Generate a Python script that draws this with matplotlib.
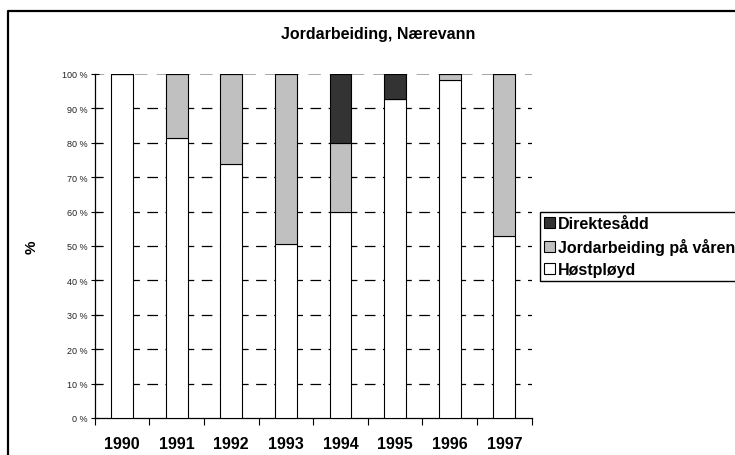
import matplotlib
matplotlib.use("Agg")
import matplotlib.pyplot as plt
from matplotlib.lines import Line2D
from matplotlib.patches import Patch
import numpy as np

plt.rcParams['font.family'] = ['Liberation Sans', 'DejaVu Sans']

years = ['1990', '1991', '1992', '1993', '1994', '1995', '1996', '1997']
hostployd = [100.0, 81.4, 73.7, 50.6, 59.8, 92.7, 98.3, 53.0]
jord_var = [0.0, 18.6, 26.3, 49.4, 20.1, 0.0, 1.7, 47.0]
direktesadd = [0.0, 0.0, 0.0, 0.0, 20.1, 7.3, 0.0, 0.0]
series_names = ['Direktesådd', 'Jordarbeiding på våren', 'Høstpløyd']
yticks = list(range(0, 101, 10))
ytick_labels = [f'{v} %' for v in yticks]

W, H = 735, 456
fig = plt.figure(figsize=(W / 100, H / 100), dpi=100)
ax = fig.add_axes([94.7 / W, 1 - 419 / H, (531.7 - 94.7) / W, (419 - 75) / H])

x = np.arange(len(years))
bw = 0.4
c_dark, c_gray, c_white = '#333333', '#c0c0c0', '#ffffff'
ekw = dict(edgecolor='black', linewidth=0.8, zorder=3)
ax.bar(x, hostployd, bw, color=c_white, **ekw)
b2 = np.array(hostployd)
ax.bar(x, jord_var, bw, bottom=b2, color=c_gray, **ekw)
b3 = b2 + np.array(jord_var)
ax.bar(x, direktesadd, bw, bottom=b3, color=c_dark, **ekw)

ax.set_xlim(-0.5, len(years) - 0.5)
ax.set_ylim(0, 100)
for v in yticks[1:-1]:
    ax.axhline(v, color='black', lw=0.9, ls=(2, (8.5, 6.0)), zorder=1)
ax.axhline(100, color='#999999', lw=1.2, ls=(2, (7.5, 5.5)), zorder=1)

ax.set_yticks(yticks)
ax.set_yticklabels(ytick_labels, fontsize=6.5, color='#222222')
ax.tick_params(axis='y', direction='inout', length=6, width=0.8, pad=2)

ax.set_xticks(np.arange(len(years) + 1) - 0.5)
ax.set_xticklabels([])
ax.tick_params(axis='x', which='major', direction='out', length=5, width=0.8)
ax.set_xticks(x, minor=True)
ax.set_xticklabels(years, minor=True, fontsize=11.5, fontweight='bold')
ax.tick_params(axis='x', which='minor', length=0, pad=13)

for s in ['top', 'right']:
    ax.spines[s].set_visible(False)
for s in ['left', 'bottom']:
    ax.spines[s].set_linewidth(0.9)

fig.text(378 / W, 1 - 35 / H, 'Jordarbeiding, Nærevann', ha='center', va='center',
         fontsize=11.5, fontweight='bold')
fig.text(32 / W, 1 - 247 / H, '%', ha='center', va='center', rotation=90,
         fontsize=11, fontweight='bold')

handles = [Patch(facecolor=c, edgecolor='black', linewidth=0.8) for c in (c_dark, c_gray, c_white)]
leg = fig.legend(handles, series_names, loc='upper left',
                 bbox_to_anchor=(540 / W, 1 - 213 / H), prop={'size': 11.5, 'weight': 'bold'},
                 frameon=True, fancybox=False, edgecolor='black', framealpha=1,
                 handlelength=0.7, handleheight=0.7, handletextpad=0.15,
                 labelspacing=0.45, borderpad=0.25, borderaxespad=0)
leg.get_frame().set_linewidth(1.0)

# chart border (left and top)
fig.add_artist(Line2D([8 / W, 8 / W, 1.0], [0.0, 1 - 12 / H, 1 - 12 / H],
                      color='black', lw=1.6, transform=fig.transFigure))

fig.savefig('out.png', dpi=100)
